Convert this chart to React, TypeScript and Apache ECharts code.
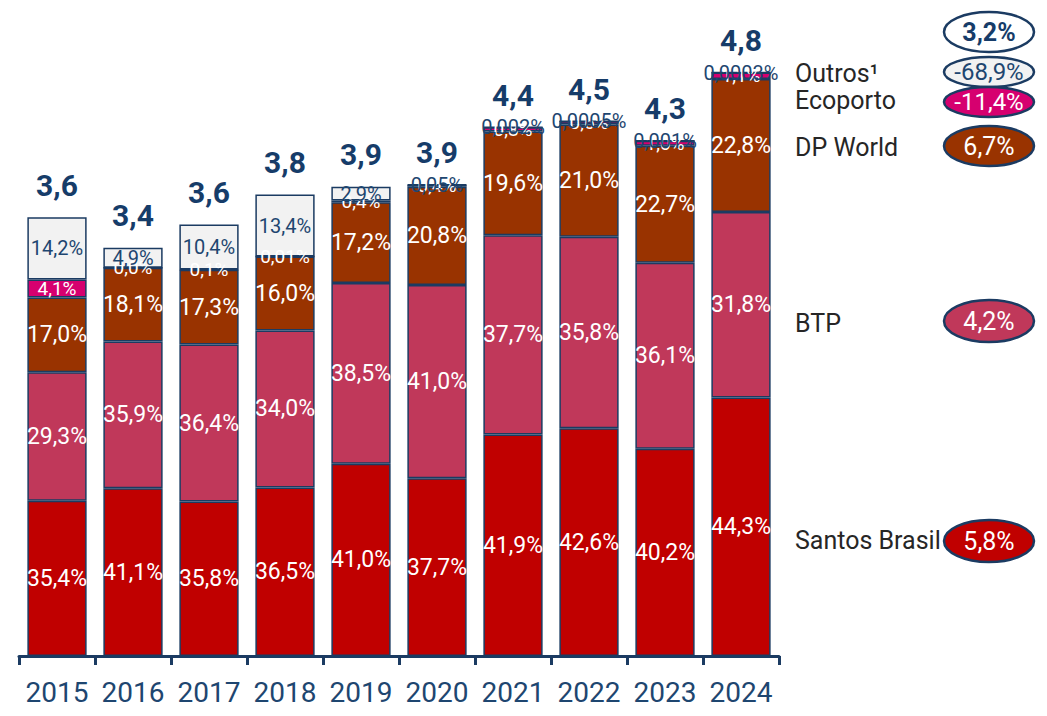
import React, { useEffect, useRef } from "react";
import * as echarts from "echarts";

const years = ["2015", "2016", "2017", "2018", "2019", "2020", "2021", "2022", "2023", "2024"];
const totals = [3.61, 3.36, 3.55, 3.8, 3.86, 3.88, 4.35, 4.4, 4.24, 4.8];
const totalLabels = ["3,6", "3,4", "3,6", "3,8", "3,9", "3,9", "4,4", "4,5", "4,3", "4,8"];
const santosShare = [35.4, 41.1, 35.8, 36.5, 41.0, 37.7, 41.9, 42.6, 40.2, 44.3];
const btpShare = [29.3, 35.9, 36.4, 34.0, 38.5, 41.0, 37.7, 35.8, 36.1, 31.8];
const dpWorldShare = [17.0, 18.1, 17.3, 16.0, 17.2, 20.8, 19.6, 21.0, 22.7, 22.8];
const ecoportoShare = [4.1, 0.0, 0.1, 0.01, 0.4, 0.4, 0.8, 0.6, 1.0, 1.1];
const outrosShare = [14.2, 4.9, 10.4, 13.4, 2.9, 0.05, 0.002, 0.0005, 0.001, 0.0003];

const totalGrowth = "3,2%";
const legendNames = ["Outros¹", "Ecoporto", "DP World", "BTP", "Santos Brasil"];
const growthLabels = ["-68,9%", "-11,4%", "6,7%", "4,2%", "5,8%"];

const COLORS = {
  santos: "#C00000",
  btp: "#C0385A",
  dp: "#993300",
  eco: "#D6006F",
  outros: "#F2F2F2",
  navy: "#1B3B62",
  text: "#1E4670",
  total: "#163C69",
};

const fmt = (v: number) => {
  const s = v === 0 || v >= 0.1 ? v.toFixed(1) : String(v);
  return s.replace(".", ",") + "%";
};

const toValues = (share: number[]) => share.map((s, i) => (totals[i] * s) / 100);

export default function App() {
  const ref = useRef<HTMLDivElement>(null);
  useEffect(() => {
    if (!ref.current) return;
    const chart = echarts.init(ref.current, undefined, { renderer: "svg" });
    const font = "Roboto";
    const mkSeries = (
      name: string,
      share: number[],
      color: string,
      labelColor: string,
      fontSize: number
    ) => ({
      name,
      type: "bar",
      stack: "total",
      barCategoryGap: "22%",
      data: toValues(share),
      itemStyle: { color, borderColor: COLORS.navy, borderWidth: 1.5 },
      label: {
        show: true,
        position: "inside",
        formatter: (p: any) => fmt(share[p.dataIndex]),
        color: labelColor,
        fontSize,
        fontFamily: font,
        textBorderWidth: 0,
      },
      emphasis: { disabled: true },
    });

    const legendY = [73, 100, 147, 323, 540];
    const ellY = [72, 102, 146, 321, 541];
    const ellRy = [15, 15, 20, 21, 21];
    const ellFill = [COLORS.outros, COLORS.eco, COLORS.dp, COLORS.btp, COLORS.santos];
    const ellText = [COLORS.text, "#fff", "#fff", "#fff", "#fff"];
    const ellFont = [24, 24, 25, 25, 25];

    const graphic: any[] = [];
    legendNames.forEach((n, i) => {
      graphic.push({
        type: "text",
        x: 795,
        y: legendY[i],
        style: {
          text: n,
          fill: "#262626",
          fontSize: 25,
          fontFamily: font,
          align: "left",
          verticalAlign: "middle",
        },
      });
      graphic.push({
        type: "ellipse",
        shape: { cx: 989, cy: ellY[i], rx: 45, ry: ellRy[i] },
        style: { fill: ellFill[i], stroke: COLORS.navy, lineWidth: 2.5 },
      });
      graphic.push({
        type: "text",
        x: 989,
        y: ellY[i],
        style: {
          text: growthLabels[i],
          fill: ellText[i],
          fontSize: ellFont[i],
          fontFamily: font,
          align: "center",
          verticalAlign: "middle",
        },
      });
    });
    graphic.push({
      type: "ellipse",
      shape: { cx: 989, cy: 32, rx: 45, ry: 20 },
      style: { fill: "#fff", stroke: COLORS.navy, lineWidth: 2.5 },
    });
    graphic.push({
      type: "text",
      x: 989,
      y: 32,
      style: {
        text: totalGrowth,
        fill: COLORS.total,
        fontSize: 25,
        fontWeight: "bold",
        fontFamily: font,
        align: "center",
        verticalAlign: "middle",
      },
    });

    chart.setOption({
      animation: false,
      grid: { left: 19, right: 268, top: 24, bottom: 60 },
      xAxis: {
        type: "category",
        data: years,
        axisLine: { lineStyle: { color: COLORS.navy, width: 3 } },
        axisTick: { show: true, length: 9, lineStyle: { color: COLORS.navy, width: 3 } },
        axisLabel: {
          interval: 0,
          color: COLORS.text,
          fontSize: 28,
          fontFamily: font,
          margin: 22,
        },
      },
      yAxis: { type: "value", min: 0, max: 5.2, show: false },
      series: [
        mkSeries("Santos Brasil", santosShare, COLORS.santos, "#fff", 23),
        mkSeries("BTP", btpShare, COLORS.btp, "#fff", 23),
        mkSeries("DP World", dpWorldShare, COLORS.dp, "#fff", 23),
        mkSeries("Ecoporto", ecoportoShare, COLORS.eco, "#fff", 19),
        mkSeries("Outros", outrosShare, COLORS.outros, COLORS.text, 20),
        {
          name: "Total",
          type: "scatter",
          data: totals,
          symbol: "circle",
          symbolSize: 2,
          itemStyle: { color: "rgba(0,0,0,0)", opacity: 1 },
          label: {
            show: true,
            position: "top",
            distance: 16,
            formatter: (p: any) => totalLabels[p.dataIndex],
            color: COLORS.total,
            fontSize: 30,
            fontWeight: "bold",
            fontFamily: font,
          },
          emphasis: { disabled: true },
          z: 5,
        },
      ],
      graphic,
    });
    return () => chart.dispose();
  }, []);
  return (
    <div
      ref={ref}
      style={{ position: "fixed", left: 0, top: 0, width: 1047, height: 716, background: "#fff" }}
    />
  );
}
